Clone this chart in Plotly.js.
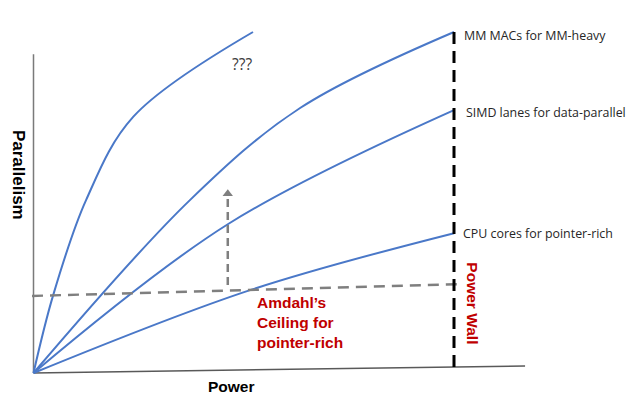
<!DOCTYPE html>
<html>
<head>
<meta charset="utf-8">
<script src="https://cdn.plot.ly/plotly-3.0.1.min.js"></script>
<style>html,body{margin:0;padding:0;background:#fff;}#chart{width:628px;height:396px;}</style>
</head>
<body>
<div id="chart"></div>
<script>
// Power (x) vs Parallelism (y), arbitrary units: origin 0, power wall at 100
const unknownX = [0, 4.7, 12.5, 23.7, 52.2];
const unknownY = [0, 22.9, 50.7, 75.1, 100];
const mmX = [0, 37.2, 63.4, 100];
const mmY = [0, 50.7, 77.7, 100];
const simdX = [0, 46.3, 100];
const simdY = [0, 43.7, 77.1];
const cpuX = [0, 51.5, 100];
const cpuY = [0, 24.3, 41];
const amdahlX = [-0.36, 101.9];
const amdahlY = [22.6, 26.1];
const arrowX = [46.2, 46.2];
const arrowY = [25.8, 51.6];
const arrowTip = [52.6];
const wallX = [100, 100];
const wallY = [100, 1.5];
const xAxisX = [0, 116.9];
const xAxisY = [0, 2.05];
const yAxisX = [0, 0];
const yAxisY = [0, 93.5];
const seriesLabels = ["MM MACs for MM-heavy", "SIMD lanes for data-parallel", "CPU cores for pointer-rich"];

const blue = '#4a78c8';
const gray = '#7f7f7f';
const red = '#c00000';

const traces = [
  {x: xAxisX, y: xAxisY, mode: 'lines', line: {color: '#595959', width: 1.5}},
  {x: yAxisX, y: yAxisY, mode: 'lines', line: {color: '#7a7a7a', width: 1.5}},
  {x: unknownX, y: unknownY, mode: 'lines', line: {color: blue, width: 2, shape: 'spline', smoothing: 1}},
  {x: mmX, y: mmY, mode: 'lines', line: {color: blue, width: 2, shape: 'spline', smoothing: 1}},
  {x: simdX, y: simdY, mode: 'lines', line: {color: blue, width: 2, shape: 'spline', smoothing: 1}},
  {x: cpuX, y: cpuY, mode: 'lines', line: {color: blue, width: 2, shape: 'spline', smoothing: 1}},
  {x: amdahlX, y: amdahlY, mode: 'lines', line: {color: gray, width: 2.5, dash: '11px,7px'}},
  {x: arrowX, y: arrowY, mode: 'lines', line: {color: gray, width: 2.5, dash: '8px,5px'}},
  {x: [arrowX[0]], y: arrowTip, mode: 'markers', marker: {symbol: 'triangle-up', size: 9, color: gray}},
  {x: wallX, y: wallY, mode: 'lines', line: {color: '#000', width: 3, dash: '12px,7px'}}
];

const annFont = {family: 'Open Sans, sans-serif', size: 12.4, color: '#262626'};
const boldRed = {family: 'Liberation Sans, Arial, sans-serif', size: 15.5, color: red, weight: 'bold'};
const boldBlack = {family: 'Liberation Sans, Arial, sans-serif', size: 15.5, color: '#000', weight: 'bold'};

const annotations = [
  {x: 101.9, y: mmY[mmY.length-1] - 0.9, text: seriesLabels[0], xanchor: 'left', yanchor: 'middle', showarrow: false, font: annFont},
  {x: 102.4, y: simdY[simdY.length-1] - 0.6, text: seriesLabels[1], xanchor: 'left', yanchor: 'middle', showarrow: false, font: annFont},
  {x: 101.7, y: cpuY[cpuY.length-1] - 0.2, text: seriesLabels[2], xanchor: 'left', yanchor: 'middle', showarrow: false, font: annFont},
  {x: 49.5, y: 90.6, text: '???', showarrow: false, xanchor: 'center', yanchor: 'middle', font: {family: 'Open Sans, sans-serif', size: 15.5, color: '#404040'}},
  {x: 104.3, y: 20.4, text: '<b>Power Wall</b>', textangle: 90, showarrow: false, xanchor: 'center', yanchor: 'middle', font: boldRed},
  {x: 52.7, y: 14.7, text: '<b>Amdahl’s<br>Ceiling for<br>pointer-rich</b>', align: 'left', showarrow: false, xanchor: 'left', yanchor: 'middle', font: boldRed},
  {x: 47.0, y: -4.1, text: '<b>Power</b>', showarrow: false, xanchor: 'center', yanchor: 'middle', font: boldBlack},
  {x: -3.7, y: 58.1, text: '<b>Parallelism</b>', textangle: 90, showarrow: false, xanchor: 'center', yanchor: 'middle', font: {family: 'Liberation Sans, Arial, sans-serif', size: 17, color: '#000'}}
];

const layout = {
  width: 628, height: 396,
  margin: {l: 0, r: 0, t: 0, b: 0, pad: 0},
  paper_bgcolor: '#fff', plot_bgcolor: '#fff',
  showlegend: false,
  xaxis: {range: [-7.967, 141.38], visible: false, fixedrange: true},
  yaxis: {range: [-6.745, 109.38], visible: false, fixedrange: true},
  annotations: annotations
};

Plotly.newPlot('chart', traces, layout, {displayModeBar: false, staticPlot: true});
</script>
</body>
</html>
